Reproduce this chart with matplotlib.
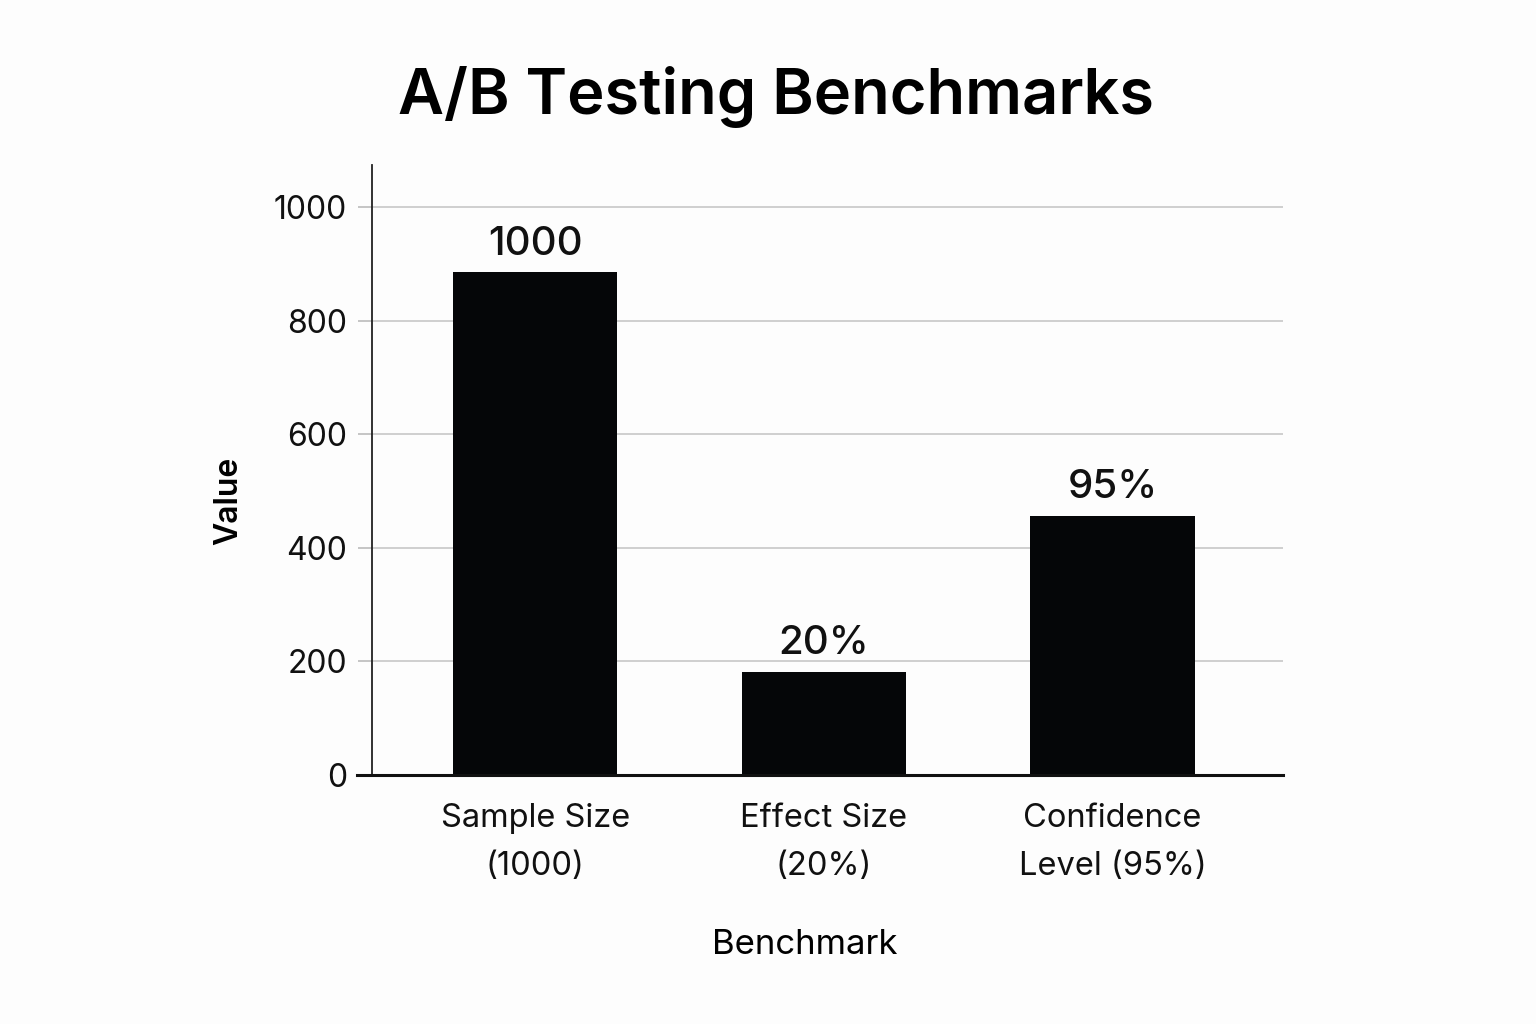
import numpy as np
import matplotlib
matplotlib.use("Agg")
import matplotlib.pyplot as plt

# data
categories = ["Sample Size\n(1000)", "Effect Size\n(20%)", "Confidence\nLevel (95%)"]
bar_heights = [885, 181, 456]
bar_labels = ["1000", "20%", "95%"]
yticks = [0, 200, 400, 600, 800, 1000]

plt.rcParams['font.family'] = ['Inter', 'DejaVu Sans']

fig = plt.figure(figsize=(15.36, 10.24), dpi=100)
fig.patch.set_facecolor("#fdfdfd")
ax = fig.add_axes([0.2422, 0.2432, 0.5931, 0.5957])
ax.set_facecolor("#fdfdfd")

x = np.arange(len(categories))
bars = ax.bar(x, bar_heights, width=0.57, color="#050608", zorder=3)

for b, lab in zip(bars, bar_labels):
    ax.annotate(lab, (b.get_x() + b.get_width() / 2, b.get_height()),
                xytext=(0, 7), textcoords="offset points",
                ha="center", va="bottom", fontsize=29, fontweight="medium",
                color="#111111")

ax.set_xlim(-0.565, 2.59)
ax.set_ylim(0, 1074)
ax.set_yticks(yticks)
ax.set_xticks(x)
ax.set_xticklabels(categories, fontsize=23.5, linespacing=1.7)
ax.tick_params(axis="y", labelsize=23, length=10, width=1.2, color="#bbbbbb",
               pad=8, labelcolor="#111111")
ax.tick_params(axis="x", length=0, pad=20, labelcolor="#111111")
ax.grid(axis="y", color="#cccccc", linewidth=1.3, zorder=0)

for s in ["top", "right", "bottom"]:
    ax.spines[s].set_visible(False)
ax.spines["left"].set_linewidth(1.3)
ax.spines["left"].set_color("#222222")

# baseline running past the left spine like the tick marks
ax.plot([-0.016, 1.0], [0, 0], transform=ax.get_yaxis_transform(),
        color="#111111", linewidth=2.2, clip_on=False, zorder=4)

ax.set_ylabel("Value", fontsize=23, fontweight="semibold")
ax.yaxis.set_label_coords(-0.14, 0.45)
ax.set_xlabel("Benchmark", fontsize=25)
ax.xaxis.set_label_coords(0.475, -0.253)

fig.text(0.505, 0.905, "A/B Testing Benchmarks", ha="center", va="center",
         fontsize=45.5, fontweight="semibold")

fig.savefig("out.png", dpi=100, facecolor=fig.get_facecolor())
